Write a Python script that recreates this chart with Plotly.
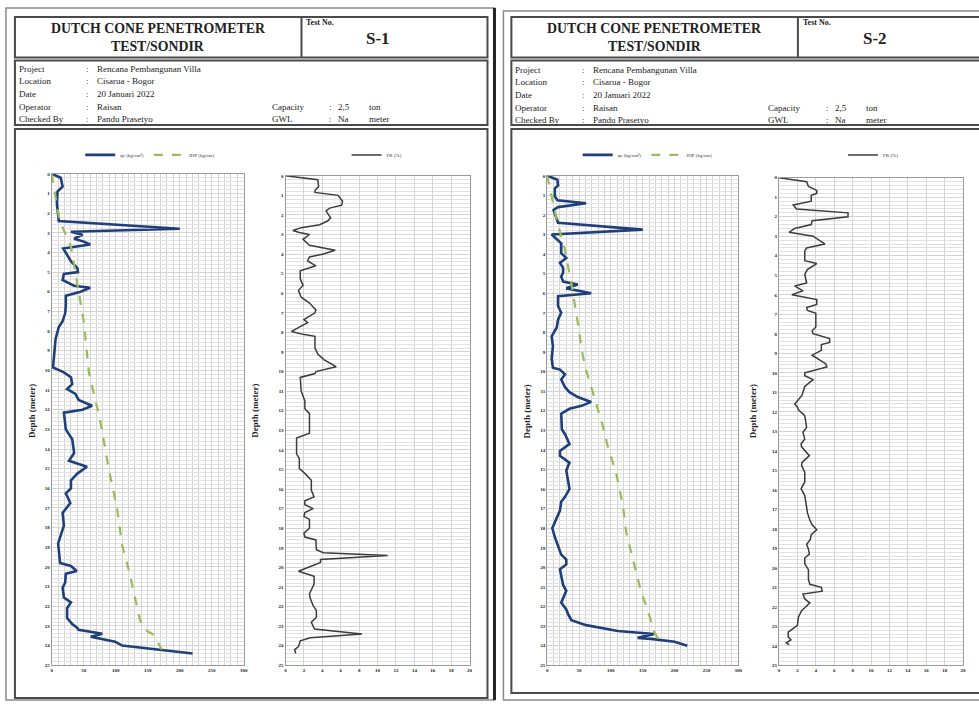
import plotly.graph_objects as go

W, H = 979, 706

# ---------------- DATA ----------------
s1_qc_depth = [0, 0.2, 0.65, 0.9, 1.5, 2.2, 2.4, 2.8, 2.95, 3.1, 3.3, 3.45, 3.6, 3.8, 4.1, 4.45, 4.8, 5.0, 5.1, 5.4,
               5.7, 5.8, 6.0, 6.2, 6.7, 7.1, 7.5, 7.8, 8.4, 9.1, 9.85, 10.1, 10.35, 10.7, 10.95, 11.2, 11.5, 11.8, 12.0, 12.15,
               12.8, 13.0, 13.5, 14.2, 14.6, 14.9, 15.25, 15.6, 16.0, 16.25, 16.75, 17.25, 17.9, 18.45, 18.8, 19.8, 19.95, 20.2, 20.35, 20.8,
               21.05, 21.55, 21.8, 22.1, 22.6, 22.9, 23.1, 23.2, 23.4, 23.55, 23.75, 23.8, 24.0, 24.4]
s1_qc = [0, 14, 17, 9, 8, 10, 11, 200, 30, 48, 35, 50, 60, 18, 24, 30, 40, 41, 19, 17,
         35, 60, 45, 22, 22, 21, 17, 11, 6, 4, 2, 19, 30, 32, 24, 37, 42, 63, 48, 19,
         21, 22, 32, 35, 27, 55, 40, 30, 30, 22, 29, 17, 19, 14, 10, 13, 30, 39, 22, 21,
         17, 19, 30, 24, 24, 32, 40, 42, 79, 61, 92, 99, 110, 220]

s1_jhp_depth = [0, 2.35, 3.7, 5.9, 7.5, 10.1, 12.6, 15.0, 17.0, 18.9, 20.1, 21.7, 22.7, 23.2, 23.45, 24.2]
s1_jhp = [0, 12, 30, 42, 50, 58, 76, 89, 102, 110, 120, 131, 138, 146, 159, 172]

s1_fr_depth = [0, 0.2, 0.55, 0.75, 0.85, 1.0, 1.3, 1.5, 1.65, 1.8,
               2.15, 2.3, 2.5, 2.65, 2.8, 2.9, 3.0, 3.25, 3.55, 3.8,
               4.0, 4.15, 4.35, 4.6, 4.85, 5.25, 5.6, 5.85, 6.2, 6.5,
               6.85, 7.0, 7.35, 7.5, 7.95, 8.1, 8.2, 8.8, 9.1, 9.4,
               9.75, 10.0, 10.1, 10.3, 11.0, 11.5, 11.9, 12.15, 13.15, 13.4,
               14.2, 14.45, 14.95, 15.2, 15.55, 16.05, 16.4, 16.6, 16.8, 17.0,
               17.2, 17.4, 17.55, 18.0, 18.25, 18.45, 18.6, 19.1, 19.25, 19.4,
               19.6, 19.75, 20.2, 20.45, 20.85, 21.35, 21.6, 21.95, 22.2, 22.55,
               22.8, 23.15, 23.4, 23.6, 23.75, 24.05, 24.2, 24.4]
s1_fr = [0, 3.5, 3.6, 3.2, 3.2, 5.7, 6.2, 6.1, 4.8, 4.4,
         4.9, 4.6, 3.7, 1.7, 0.8, 1.5, 2.6, 1.9, 2.6, 5.4,
         4.1, 2.6, 2.4, 3.3, 1.6, 1.6, 1.9, 1.4, 1.7, 2.6,
         3.3, 3.2, 2.0, 2.4, 0.65, 1.9, 3.2, 3.2, 3.5, 4.2,
         5.5, 3.3, 3.2, 1.6, 1.7, 2.1, 2.1, 2.6, 2.6, 1.2,
         1.2, 1.5, 1.5, 2.1, 2.8, 2.8, 3.1, 2.1, 2.1, 3.0,
         2.1, 2.0, 2.6, 2.6, 2.0, 2.1, 3.3, 3.35, 4.1, 11.1,
         3.8, 3.8, 1.4, 3.1, 3.1, 2.6, 2.7, 3.0, 3.35, 3.35,
         2.8, 3.15, 8.3, 2.7, 1.6, 1.4, 1.0, 1.1]

s2_qc_depth = [0, 0.2, 0.5, 0.65, 1.05, 1.25, 1.4, 1.6, 1.75, 2.0,
               2.25, 2.4, 2.75, 3.0, 3.45, 3.95, 4.2, 4.45, 4.7, 4.95,
               5.15, 5.4, 5.55, 5.75, 6.0, 6.15, 6.65, 7.0, 7.35, 7.75,
               8.2, 8.7, 9.35, 9.8, 9.9, 10.15, 10.4, 10.8, 11.05, 11.3,
               11.55, 11.75, 11.9, 12.15, 12.95, 13.2, 13.7, 14.05, 14.3, 14.65,
               15.05, 15.65, 16.0, 16.4, 16.65, 17.1, 17.5, 18.0, 18.45, 18.95,
               19.35, 19.6, 19.85, 20.1, 20.45, 20.9, 21.2, 21.8, 22.15, 22.4,
               22.7, 22.95, 23.25, 23.4, 23.6, 23.65, 23.8, 24.0]
s2_qc = [0, 16, 17, 12, 12, 16, 61, 17, 10, 13,
         15, 17, 150, 7, 22, 22, 30, 20, 25, 25,
         22, 25, 48, 30, 69, 17, 17, 22, 17, 15,
         7, 9, 7, 9, 20, 28, 22, 28, 35, 48,
         69, 54, 35, 22, 23, 28, 35, 20, 20, 35,
         30, 33, 35, 28, 22, 20, 15, 8, 12, 17,
         22, 30, 30, 20, 22, 25, 30, 22, 30, 33,
         38, 61, 111, 168, 142, 163, 200, 220]

s2_jhp_depth = [0, 2.25, 3.8, 5.5, 7.5, 9.2, 9.9, 11.6, 12.85, 13.8, 15.15, 16.85, 18.2, 19.5, 21.2, 22.2, 23.3, 24.0]
s2_jhp = [0, 15, 28, 38, 48, 56, 61, 77, 88, 95, 108, 119, 124, 134, 147, 158, 168, 181]

s2_fr_depth = [0, 0.2, 0.45, 0.65, 0.8, 0.9, 1.2, 1.4, 1.6, 1.8,
               2.0, 2.2, 2.4, 2.6, 2.8, 2.9, 3.0, 3.4, 3.6, 3.75,
               4.25, 4.4, 4.7, 4.95, 5.4, 5.55, 5.8, 6.0, 6.25, 6.5,
               6.65, 6.8, 6.95, 7.65, 7.85, 8.0, 8.25, 8.45, 8.55, 8.85,
               9.1, 9.55, 9.7, 10.0, 10.15, 10.35, 10.7, 11.0, 11.15, 11.5,
               11.6, 11.75, 11.9, 12.2, 12.8, 13.05, 13.4, 13.65, 13.8, 14.25,
               14.6, 14.75, 15.1, 15.6, 15.95, 16.3, 16.95, 17.2, 17.55, 17.8,
               18.05, 18.3, 18.55, 18.8, 19.05, 19.3, 19.5, 19.8, 20.1, 20.6,
               20.85, 21.0, 21.2, 21.35, 21.6, 21.8, 22.05, 22.2, 22.55, 22.95,
               23.3, 23.55, 23.7, 23.85, 23.95]
s2_fr = [0, 3.0, 3.2, 4.1, 4.1, 3.5, 3.5, 1.55, 1.9, 7.5,
         7.5, 3.6, 3.5, 1.7, 1.1, 2.3, 3.7, 5.0, 3.0, 2.8,
         2.8, 4.1, 3.1, 2.8, 3.0, 1.7, 2.6, 1.4, 4.1, 4.1,
         3.0, 3.1, 4.0, 4.0, 3.6, 3.7, 5.5, 5.5, 4.6, 4.6,
         3.6, 5.1, 5.2, 2.8, 2.8, 3.7, 2.8, 2.6, 2.5, 1.9,
         1.7, 2.0, 2.1, 2.8, 3.0, 2.6, 2.8, 2.4, 2.45, 3.3,
         2.5, 2.45, 2.8, 2.8, 2.4, 2.8, 3.0, 3.1, 3.35, 3.6,
         4.1, 3.5, 3.4, 3.0, 3.2, 3.3, 2.8, 2.8, 3.2, 3.2,
         3.35, 4.6, 4.7, 2.6, 2.8, 3.35, 2.8, 2.45, 2.1, 2.0,
         1.0, 1.0, 1.3, 0.8, 1.1]

qc_ticks = [0, 50, 100, 150, 200, 250, 300]
fr_ticks = [0, 2, 4, 6, 8, 10, 12, 14, 16, 18, 20]
depth_ticks = list(range(0, 26))

title_lines = ["DUTCH CONE PENETROMETER", "TEST/SONDIR"]
test_labels = ["S-1", "S-2"]
info_labels = ["Project", "Location", "Date", "Operator", "Checked By"]
info_values = ["Rencana Pembangunan Villa", "Cisarua - Bogor", "20 Januari 2022", "Raisan", "Pandu Prasetyo"]
extra_labels = ["Capacity", "GWL"]
extra_values = ["2,5", "Na"]
extra_units = ["ton", "meter"]
legend_names = ["qc (kg/cm²)", "JHP (kg/cm)", "FR (%)"]

# ---------------- HELPERS ----------------
def px(x):
    return x / W

def py(y):
    return 1 - y / H

SERIF = "Liberation Serif"
QC_COLOR = "#1f3f7a"
JHP_COLOR = "#9bbb59"
FR_COLOR = "#3c3c3c"
GRID = "#d4d4d4"

fig = go.Figure()

# plot areas in pixels: (left, right, top, bottom)
plots = [
    (51, 244, 173, 668),   # S-1 qc
    (286, 471, 175, 668),  # S-1 FR
    (549, 741, 175, 668),  # S-2 qc
    (782, 967, 177, 668),  # S-2 FR
]

series = [
    [(s1_qc, s1_qc_depth, legend_names[0], QC_COLOR, 2.6, "solid"),
     (s1_jhp, s1_jhp_depth, legend_names[1], JHP_COLOR, 2.2, "dash")],
    [(s1_fr, s1_fr_depth, legend_names[2], FR_COLOR, 1.5, "solid")],
    [(s2_qc, s2_qc_depth, legend_names[0], QC_COLOR, 2.6, "solid"),
     (s2_jhp, s2_jhp_depth, legend_names[1], JHP_COLOR, 2.2, "dash")],
    [(s2_fr, s2_fr_depth, legend_names[2], FR_COLOR, 1.5, "solid")],
]

legend_keys = ["legend", "legend2", "legend3", "legend4"]
legend_cx = [150, 378, 650, 877]
axis_title_x = [31, 255, 529, 756]

layout = {}
for i, (l, r, t, b) in enumerate(plots):
    n = i + 1
    sx = "" if n == 1 else str(n)
    is_qc = (i % 2 == 0)
    for vals, deps, name, col, w, dash in series[i]:
        fig.add_trace(go.Scatter(
            x=vals, y=deps, mode="lines", name=name,
            line=dict(color=col, width=w, dash=dash),
            xaxis="x" + sx, yaxis="y" + sx, legend=legend_keys[i],
        ))
    xa = dict(
        domain=[px(l), px(r)], anchor="y" + sx,
        range=[0, 300] if is_qc else [0, 20],
        tickvals=qc_ticks if is_qc else fr_ticks,
        showgrid=True, gridcolor=GRID, gridwidth=1,
        showline=True, linecolor="#9a9a9a", linewidth=1, mirror=True,
        zeroline=False, ticks="",
        tickfont=dict(family=SERIF, size=5, color="#222", weight="bold"),
        fixedrange=True,
    )
    if is_qc:
        xa["minor"] = dict(dtick=10, showgrid=True, gridcolor=GRID, gridwidth=1)
    ya = dict(
        domain=[py(b), py(t)], anchor="x" + sx,
        range=[25, 0], tickvals=depth_ticks,
        showgrid=True, gridcolor=GRID, gridwidth=1,
        minor=dict(dtick=0.2, showgrid=True, gridcolor="#e2e2e2", gridwidth=1),
        showline=True, linecolor="#9a9a9a", linewidth=1, mirror=True,
        zeroline=False, ticks="",
        tickfont=dict(family=SERIF, size=5, color="#222", weight="bold"),
        fixedrange=True,
    )
    layout["xaxis" + sx] = xa
    layout["yaxis" + sx] = ya
    layout[legend_keys[i]] = dict(
        x=px(legend_cx[i]), y=py(154), xanchor="center", yanchor="middle",
        orientation="h", font=dict(family=SERIF, size=5, color="#333"),
        bgcolor="rgba(0,0,0,0)", itemwidth=30, tracegroupgap=0,
    )

fig.update_layout(**layout)

shapes = []
annotations = []

def rect(x0, y0, x1, y1, color="#555", width=1.5):
    shapes.append(dict(type="rect", xref="paper", yref="paper",
                       x0=px(x0), x1=px(x1), y0=py(y1), y1=py(y0),
                       line=dict(color=color, width=width), fillcolor="rgba(0,0,0,0)", layer="above"))

def line(x0, y0, x1, y1, color="#555", width=1.5):
    shapes.append(dict(type="line", xref="paper", yref="paper",
                       x0=px(x0), x1=px(x1), y0=py(y0), y1=py(y1),
                       line=dict(color=color, width=width), layer="above"))

def text(x, y, s, size=9, bold=False, anchor="left", angle=0):
    annotations.append(dict(
        xref="paper", yref="paper", x=px(x), y=py(y), text=("<b>%s</b>" % s) if bold else s,
        showarrow=False, xanchor=anchor, yanchor="middle", textangle=angle,
        font=dict(family=SERIF, size=size, color="#222"),
    ))

panels = [
    dict(dx=0, dy=0, outer=(5, 6, 496, 703), right=489, bottom=701),
    dict(dx=499, dy=1, outer=(505, 9, 995, 703), right=995, bottom=696),
]
for k, p in enumerate(panels):
    dx, dy = p["dx"], p["dy"]
    ox0, oy0, ox1, oy1 = p["outer"]
    rect(ox0, oy0, ox1, oy1, color="#8a8a8a", width=1.5)
    rect(14 + dx, 15, p["right"], 56, color="#4a4a4a", width=2)
    line(302 + dx, 15, 302 + dx, 56, color="#4a4a4a", width=2)
    rect(14 + dx, 59, p["right"], 124, color="#4a4a4a", width=2)
    rect(14 + dx, 128, p["right"], p["bottom"], color="#4a4a4a", width=2)
    text(158 + dx, 27, title_lines[0], size=13.8, bold=True, anchor="center")
    text(158 + dx, 45, title_lines[1], size=13.8, bold=True, anchor="center")
    text(305 + dx, 21, "Test No.", size=8, bold=True)
    text(379 + dx, 37, test_labels[k], size=17, bold=True, anchor="center")
    for j, (lab, val) in enumerate(zip(info_labels, info_values)):
        yy = 67 + 12.8 * j + dy
        text(16 + dx, yy, lab, size=9)
        text(83 + dx, yy, ":", size=9)
        text(94 + dx, yy, val, size=9)
    for j, (lab, val, unit) in enumerate(zip(extra_labels, extra_values, extra_units)):
        yy = 67 + 12.8 * (3 + j) + dy
        text(270 + dx, yy, lab, size=9)
        text(328 + dx, yy, ":", size=9)
        text(337 + dx, yy, val, size=9)
        text(368 + dx, yy, unit, size=9)

# thick dark edge on the right of left sheet
line(496, 6, 496, 703, color="#222", width=3)

for ax_x in axis_title_x:
    text(ax_x, 412, "Depth (meter)", size=9, bold=True, anchor="center", angle=-90)

fig.update_layout(
    width=W, height=H, autosize=False,
    margin=dict(l=0, r=0, t=0, b=0),
    paper_bgcolor="white", plot_bgcolor="white",
    shapes=shapes, annotations=annotations,
    showlegend=True,
)

fig.write_html("out.html", config={"displayModeBar": False},
               post_script="document.body.style.margin='0';document.body.style.overflow='hidden';")
